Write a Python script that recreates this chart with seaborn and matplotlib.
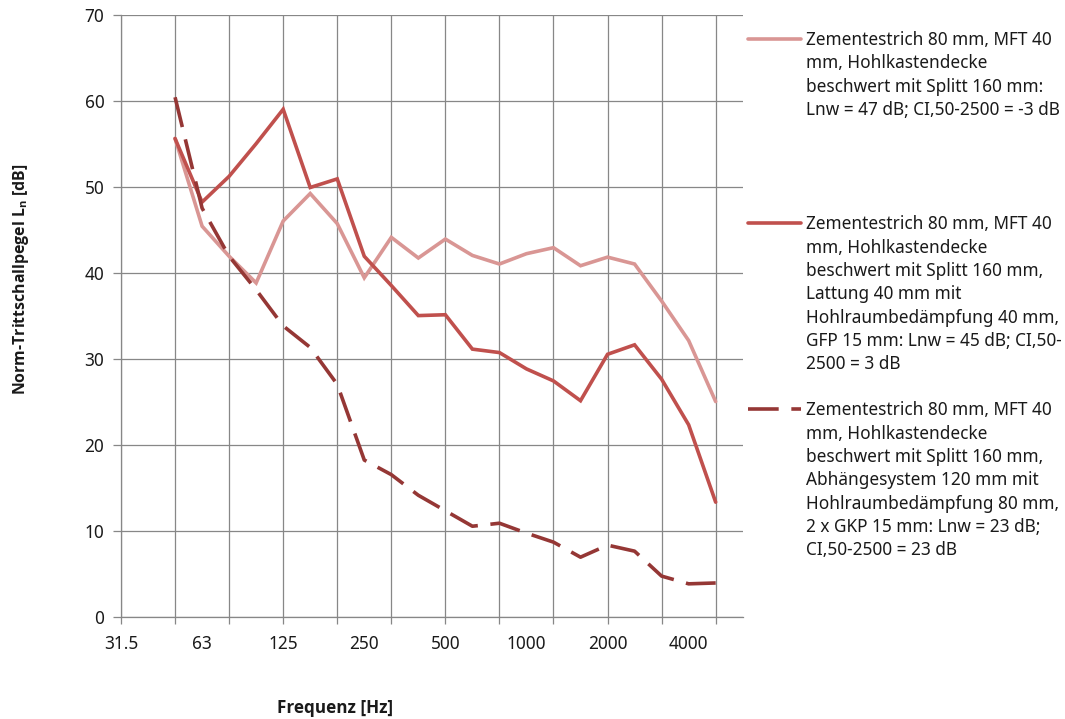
import matplotlib
matplotlib.use("Agg")
import matplotlib.pyplot as plt
from matplotlib.lines import Line2D
import numpy as np
import pandas as pd
import seaborn as sns

# Third-octave band centre frequencies shown on the category axis
freqs = ["31.5", "40", "50", "63", "80", "100", "125", "160", "200", "250",
         "315", "400", "500", "630", "800", "1000", "1250", "1600", "2000",
         "2500", "3150", "4000", "5000", "6300"]
# Bands that carry measurements (50 Hz ... 5000 Hz)
measured = freqs[2:23]

label_a = ("Zementestrich 80 mm, MFT 40\nmm, Hohlkastendecke\n"
           "beschwert mit Splitt 160 mm:\nLnw = 47 dB; CI,50-2500 = -3 dB")
label_b = ("Zementestrich 80 mm, MFT 40\nmm, Hohlkastendecke\n"
           "beschwert mit Splitt 160 mm,\nLattung 40 mm mit\n"
           "Hohlraumbedämpfung 40 mm,\nGFP 15 mm: Lnw = 45 dB; CI,50-\n2500 = 3 dB")
label_c = ("Zementestrich 80 mm, MFT 40\nmm, Hohlkastendecke\n"
           "beschwert mit Splitt 160 mm,\nAbhängesystem 120 mm mit\n"
           "Hohlraumbedämpfung 80 mm,\n2 x GKP 15 mm: Lnw = 23 dB;\nCI,50-2500 = 23 dB")

# Normalised impact sound pressure level Ln [dB] per band
ln_a = [55.6, 45.4, 41.9, 38.8, 46.0, 49.2, 45.7, 39.4, 44.1, 41.7, 43.9,
        42.0, 41.0, 42.2, 42.9, 40.8, 41.8, 41.0, 36.7, 32.1, 25.0]
ln_b = [55.6, 48.2, 51.2, 55.0, 59.0, 49.9, 50.9, 41.9, 38.5, 35.0, 35.1,
        31.1, 30.7, 28.8, 27.4, 25.1, 30.5, 31.6, 27.6, 22.3, 13.3]
ln_c = [60.4, 47.5, 41.9, 38.0, 33.8, 31.3, 27.0, 18.2, 16.5, 14.1, 12.3,
        10.5, 10.85, 9.7, 8.65, 6.9, 8.3, 7.6, 4.7, 3.8, 3.9]

labels = [label_a, label_b, label_c]
colors = ["#D99694", "#C0504D", "#953735"]

pos = {f: i for i, f in enumerate(freqs)}
rows = []
for lab, vals in zip(labels, [ln_a, ln_b, ln_c]):
    for f, v in zip(measured, vals):
        rows.append({"Band": pos[f], "Ln": v, "Aufbau": lab})
df = pd.DataFrame(rows)

sns.set_theme(style="white")
plt.rcParams["font.family"] = ["Noto Sans", "DejaVu Sans"]
plt.rcParams["mathtext.fontset"] = "custom"
plt.rcParams["mathtext.bf"] = "Open Sans:bold"
plt.rcParams["mathtext.rm"] = "Open Sans"

fig = plt.figure(figsize=(10.65, 7.19), dpi=100)
W, H = 1065, 719
ax = fig.add_axes([121 / W, (H - 616.5) / H, 621.7 / W, (616.5 - 14.7) / H])

lw = 2.6
sns.lineplot(data=df, x="Band", y="Ln", hue="Aufbau", style="Aufbau",
             palette=dict(zip(labels, colors)),
             dashes={label_a: "", label_b: "", label_c: (8.5, 3.5)},
             linewidth=lw, legend=False, ax=ax)
for ln in ax.lines:
    ln.set_solid_capstyle("round")
    ln.set_dash_capstyle("butt")
    ln.set_solid_joinstyle("miter")

grid_c = "#878787"
ax.set_xlim(0, len(freqs) - 1)
ax.set_ylim(0, 70)
ax.set_yticks(np.arange(0, 71, 10))
ax.set_xticks(np.arange(0, len(freqs) - 1, 2))
ax.set_xticklabels([])
lab_idx = np.arange(0, len(freqs) - 1, 3)
ax.xaxis.remove_overlapping_locs = False
ax.set_xticks(lab_idx, minor=True)
ax.set_xticklabels([freqs[i] for i in lab_idx], minor=True)
ax.tick_params(axis="x", which="major", length=5, width=0.9, color=grid_c,
               direction="out", bottom=True)
ax.tick_params(axis="x", which="minor", length=0, pad=13, labelsize=12.4,
               labelcolor="#1a1a1a")
ax.tick_params(axis="y", length=6, width=0.9, color=grid_c, left=True,
               pad=6, labelsize=12.4, labelcolor="#1a1a1a")
ax.grid(True, which="major", color=grid_c, linewidth=0.9)
ax.set_axisbelow(True)
for s in ["top", "right"]:
    ax.spines[s].set_visible(False)
for s in ["left", "bottom"]:
    ax.spines[s].set_color(grid_c)
    ax.spines[s].set_linewidth(0.9)
ax.set_xlabel("")
ax.set_ylabel("")

title_font = dict(family="Open Sans", fontweight="bold", color="#1a1a1a")
fig.text(335 / W, 1 - 708 / H, "Frequenz [Hz]", ha="center", va="center",
         fontsize=12.3, **title_font)
fig.text(21 / W, 1 - 279 / H, "Norm-Trittschallpegel L$_\\mathbf{n}$ [dB]",
         ha="center", va="center", rotation=90, fontsize=11.4, **title_font)

# Legend entries placed beside the plot area
first_line_y = [38.5, 223, 409]
for ln, lab, yc in zip(ax.lines, labels, first_line_y):
    yf = 1 - yc / H
    sample = Line2D([748 / W, 801 / W], [yf, yf], transform=fig.transFigure,
                    color=ln.get_color(), linewidth=lw,
                    linestyle=ln.get_linestyle())
    if ln.get_linestyle() not in ("-", "solid"):
        sample.set_dashes((8.5, 3.5))
    sample.set_dash_capstyle("butt")
    fig.add_artist(sample)
    fig.text(806 / W, 1 - (yc - 7.5) / H, lab, ha="left", va="top",
             fontsize=12.4, color="#1a1a1a", linespacing=1.38)

fig.savefig("out.png", dpi=100, facecolor="white")
